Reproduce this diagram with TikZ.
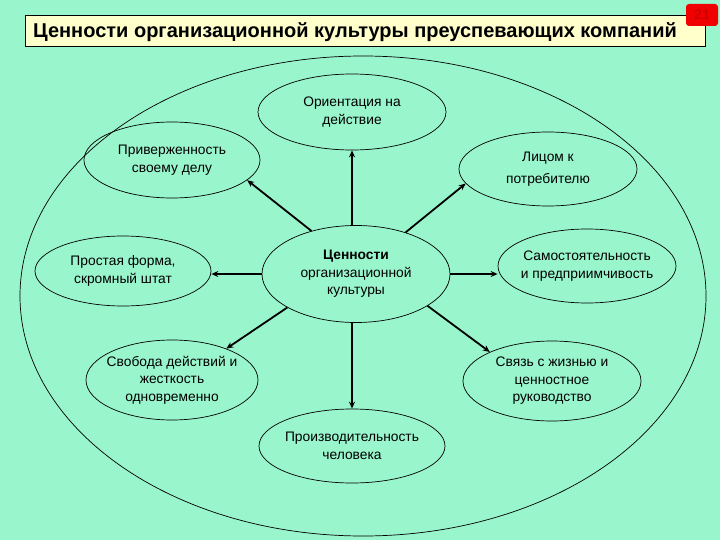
\documentclass[tikz,border=0pt]{standalone}
\usepackage{fontspec}
\setmainfont{Liberation Sans}
\usetikzlibrary{shapes.geometric,arrows.meta}
\definecolor{bg}{RGB}{153,245,204}
\definecolor{titlefill}{RGB}{255,255,204}
\definecolor{pagered}{RGB}{240,0,0}
\definecolor{pagetext}{RGB}{205,0,0}
\begin{document}
\begin{tikzpicture}[x=1pt,y=-1pt,
  bub/.style={ellipse,draw=black,line width=0.7pt,inner xsep=-25pt,inner ysep=-12pt,align=center,
    font=\fontsize{13.8}{17.5}\selectfont},
  arr/.style={line width=1.8pt,-{Stealth[length=7pt,width=6pt]}}]
\fill[bg] (0,0) rectangle (720,540);
\useasboundingbox (0,0) rectangle (720,540);
% outer ellipse
\node[ellipse,draw=black,line width=0.7pt,minimum width=686pt,minimum height=480pt,inner sep=0pt] (outer) at (363,296) {};
% title
\node[draw=black,fill=titlefill,line width=0.8pt,minimum width=680pt,minimum height=31pt,inner sep=0pt] (title) at (365,31) {};
\node[anchor=west,inner sep=0pt,font=\fontsize{20}{22}\selectfont\bfseries] (titletext) at (33,32) {Ценности организационной культуры преуспевающих компаний};
\node[fill=pagered,rounded corners=3pt,minimum width=32pt,minimum height=22pt,inner sep=0pt,
  text=pagetext,font=\fontsize{14}{14}\selectfont\bfseries] (page) at (702,15) {21};
% bubbles
\node[bub,minimum width=188pt,minimum height=76pt] (o1) at (352,112) {Ориентация на\\действие};
\node[bub,minimum width=176pt,minimum height=76pt] (o2) at (172,160) {Приверженность\\своему делу};
\node[bub,minimum width=178pt,minimum height=74pt] (o3) at (548,169) {Лицом к\\[5pt]потребителю};
\node[bub,minimum width=188pt,minimum height=97pt] (c) at (356,274) {\textbf{Ценности}\\организационной\\культуры};
\node[bub,minimum width=176pt,minimum height=70pt] (o5) at (123,271) {Простая форма,\\скромный штат};
\node[bub,minimum width=178pt,minimum height=74pt] (o6) at (587,266) {Самостоятельность\\и предприимчивость};
\node[bub,minimum width=172pt,minimum height=80pt] (o7) at (172,380) {Свобода действий и\\жесткость\\одновременно};
\node[bub,minimum width=178pt,minimum height=80pt] (o8) at (552,381) {Связь с жизнью и\\ценностное\\руководство};
\node[bub,minimum width=186pt,minimum height=74pt] (o9) at (352,446) {Производительность\\человека};
% arrows
\draw[arr] (c.north -| o1.south) -- (o1.south);
\draw[arr] (c.136) -- (o2.-15);
\draw[arr] (c.40) -- (o3.190);
\draw[arr] (c.west) -- (c.west -| o5.east);
\draw[arr] (c.east) -- (c.east -| o6.west);
\draw[arr] (c.206) -- (o7.30);
\draw[arr] (c.south -| o9.north) -- (o9.north);
\draw[arr] (c.336) -- (o8.155);
\end{tikzpicture}
\end{document}
